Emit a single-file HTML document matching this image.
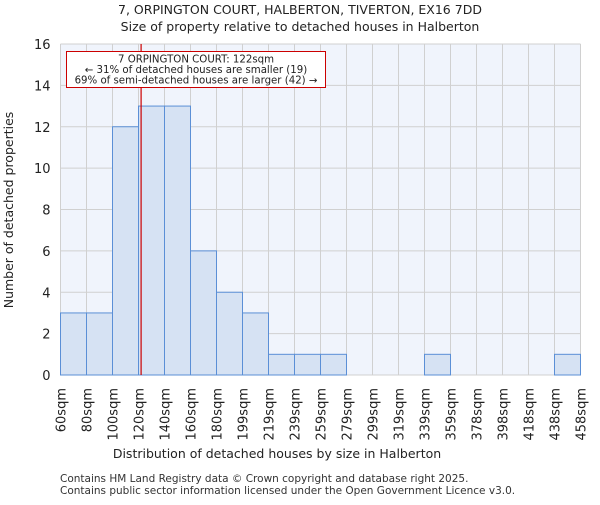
<!DOCTYPE html>
<html><head><meta charset="utf-8"><style>body{margin:0;background:#fff}svg{font-family:"DejaVu Sans","Liberation Sans",sans-serif}</style></head>
<body>
<svg id="c" width="600" height="500" xmlns="http://www.w3.org/2000/svg">
<text x="300" y="14" text-anchor="middle" font-size="12.5" fill="#222">7, ORPINGTON COURT, HALBERTON, TIVERTON, EX16 7DD</text>
<text x="300" y="31" text-anchor="middle" font-size="12.5" fill="#222">Size of property relative to detached houses in Halberton</text>
<g id="plot"></g>
<text x="277" y="458" text-anchor="middle" font-size="12.5" fill="#222">Distribution of detached houses by size in Halberton</text>
<text transform="translate(13,210) rotate(-90)" text-anchor="middle" font-size="12.5" fill="#222">Number of detached properties</text>
<text x="60" y="482" font-size="10.5" fill="#333">Contains HM Land Registry data © Crown copyright and database right 2025.</text>
<text x="60" y="494" font-size="10.5" fill="#333">Contains public sector information licensed under the Open Government Licence v3.0.</text>
</svg>
<script>
const binLabels=["60sqm","80sqm","100sqm","120sqm","140sqm","160sqm","180sqm","199sqm","219sqm","239sqm","259sqm","279sqm","299sqm","319sqm","339sqm","359sqm","378sqm","398sqm","418sqm","438sqm","458sqm"];
const counts=[3,3,12,13,13,6,4,3,1,1,1,0,0,0,1,0,0,0,0,1];
const yTicks=[0,2,4,6,8,10,12,14,16];
const propertySize=122;
const NS="http://www.w3.org/2000/svg";
const L=60.5,R=580.5,T=44,B=375,yMax=16;
const nb=binLabels.length-1;
const bw=(R-L)/nb;
const y=v=>B-(v/yMax)*(B-T);
const xi=i=>L+i*bw;
const xv=v=>{for(let i=0;i<nb;i++){const a=parseFloat(binLabels[i]),b=parseFloat(binLabels[i+1]);if(v>=a&&v<=b)return xi(i)+(v-a)/(b-a)*bw;}return L;};
const g=document.getElementById('plot');
function mk(t,a){const e=document.createElementNS(NS,t);for(const k in a)e.setAttribute(k,a[k]);g.appendChild(e);return e;}
let e=mk('rect',{x:L,y:T,width:R-L,height:B-T,fill:'#f0f4fc'});


for(let i=0;i<=nb;i++){e=mk('line',{x1:xi(i),x2:xi(i),y1:T,y2:B,stroke:'#d0d0d0','stroke-width':1});

}
yTicks.forEach(v=>{e=mk('line',{x1:L,x2:R,y1:y(v),y2:y(v),stroke:'#d0d0d0','stroke-width':1});


e=mk('text',{x:L-10,y:y(v)+5,'text-anchor':'end','font-size':13,fill:'#222'});e.textContent=v;

});
for(let i=0;i<nb;i++){if(!counts[i])continue;
e=mk('rect',{x:xi(i),y:y(counts[i]),width:bw,height:B-y(counts[i]),fill:'#d6e2f3',stroke:'#5b8fd6','stroke-width':1});

}
binLabels.forEach((s,i)=>{e=mk('text',{transform:`translate(${xi(i)+5},388) rotate(-90)`,'text-anchor':'end','font-size':13,fill:'#222'});e.textContent=s;

});
const px=xv(propertySize);
e=mk('line',{x1:px,x2:px,y1:T,y2:B,stroke:'#cc0000','stroke-width':1.2});


e=mk('rect',{x:66.5,y:51.5,width:259,height:36,fill:'#fff',stroke:'#cc0000','stroke-width':1});


["7 ORPINGTON COURT: 122sqm","← 31% of detached houses are smaller (19)","69% of semi-detached houses are larger (42) →"].forEach((t,i)=>{
e=mk('text',{x:196,y:62.5+i*10.5,'text-anchor':'middle','font-size':10.2,fill:'#222'});e.textContent=t;

});
</script>
</body></html>
